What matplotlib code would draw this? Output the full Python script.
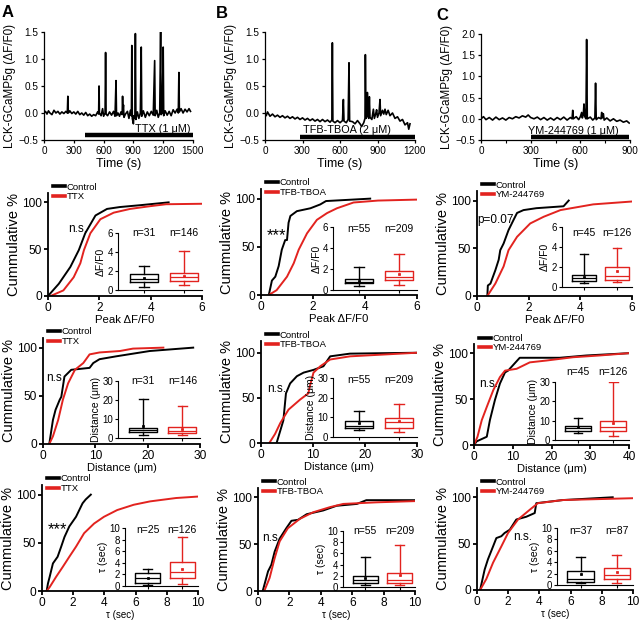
"""Calcium traces, cumulative distributions and box-plot insets (panels A-C)."""

import matplotlib
matplotlib.use("Agg")
import matplotlib.pyplot as plt
import matplotlib.transforms as mtransforms

plt.rcParams["font.family"] = ["Liberation Sans", "DejaVu Sans"]

W, H = 640, 621
RED = "#e2231f"
BLACK = "#000000"

# ---------------- example traces (time in s, dF/F0) ----------------
trace_a_t = [0, 15, 30, 45, 60, 80, 100, 120, 140, 160, 180, 200, 220, 235, 240, 245, 260, 280,
             300, 320, 340, 360, 380, 400, 420, 440, 460, 480, 500, 520, 540, 550, 554, 558, 575,
             590, 600, 615, 620, 625, 640, 660, 680, 700, 715, 725, 730, 745, 760, 775, 787, 791,
             795, 800, 805, 820, 840, 855, 870, 880, 884, 889, 900, 905, 915, 920, 925, 940, 955,
             970, 979, 984, 1000, 1020, 1040, 1060, 1080, 1100, 1114, 1119, 1135, 1150, 1165,
             1174, 1179, 1190, 1200, 1205, 1220, 1240, 1260, 1280, 1300, 1320, 1340, 1352, 1358,
             1363, 1380, 1400, 1420, 1440, 1460, 1475]
trace_a_v = [0.0, 0.03, -0.02, 0.04, 0.0, -0.03, 0.05, 0.0, 0.03, -0.02, 0.02, -0.01, 0.03, 0.0,
             0.31, 0.0, 0.04, -0.01, 0.02, -0.02, 0.03, -0.03, 0.0, -0.04, 0.01, -0.05, -0.02,
             -0.06, -0.03, -0.05, 0.02, -0.02, 0.5, 0.0, -0.05, 0.08, -0.06, 0.0, 1.12, -0.02,
             -0.05, 0.02, -0.04, 0.03, -0.06, 0.6, -0.05, 0.0, -0.06, 0.02, -0.03, 0.31, 0.05,
             0.15, -0.08, -0.02, 0.03, -0.1, 0.05, -0.05, 1.25, -0.1, -0.2, -0.05, -0.1, 1.47,
             -0.12, 0.02, -0.1, 0.0, 1.22, -0.06, 0.04, -0.08, 0.02, -0.05, 0.03, -0.04, 0.97,
             -0.05, 0.05, -0.08, 0.0, 1.5, -0.03, 0.0, 1.22, -0.05, 0.04, -0.04, 0.03, -0.05,
             0.06, 0.0, 0.07, 0.0, 0.75, 0.02, 0.08, 0.0, 0.07, 0.02, 0.08, 0.03]

trace_b_t = [0, 10, 20, 40, 60, 80, 100, 120, 140, 160, 180, 200, 220, 240, 260, 280, 300, 320,
             340, 360, 380, 400, 420, 440, 460, 480, 500, 520, 535, 539, 543, 560, 580, 600, 620,
             627, 632, 650, 665, 672, 677, 700, 720, 740, 760, 773, 790, 800, 803, 808, 815, 819,
             823, 830, 835, 840, 855, 867, 875, 885, 893, 900, 912, 920, 925, 940, 950, 960, 970,
             985, 1000, 1020, 1040, 1060, 1080, 1100, 1120, 1140, 1150, 1160]
trace_b_v = [0.0, -0.05, 0.02, -0.06, -0.02, -0.07, -0.04, -0.08, -0.05, -0.09, -0.06, -0.1,
             -0.07, -0.11, -0.08, -0.12, -0.09, -0.13, -0.1, -0.14, -0.11, -0.15, -0.12, -0.16,
             -0.12, -0.16, -0.13, -0.17, -0.13, 1.3, -0.15, -0.18, -0.14, -0.18, -0.14, 0.25,
             -0.15, -0.18, -0.12, 0.93, -0.15, -0.16, -0.2, -0.14, -0.2, -0.25, -0.18, -0.1, 1.08,
             -0.1, -0.05, 0.38, -0.05, -0.1, 0.3, -0.08, -0.12, 0.07, -0.1, -0.02, 0.06, -0.08,
             0.0, 0.25, -0.05, 0.05, -0.02, 0.07, -0.03, 0.05, -0.05, 0.0, -0.1, -0.07, -0.15,
             -0.12, -0.22, -0.18, -0.3, -0.2]

trace_c_t = [0, 15, 30, 50, 70, 90, 110, 130, 150, 170, 190, 210, 230, 250, 270, 285, 300, 320,
             340, 360, 380, 400, 420, 440, 460, 480, 500, 520, 540, 550, 554, 558, 575, 590, 600,
             608, 612, 618, 622, 627, 634, 638, 642, 660, 675, 688, 692, 696, 710, 725, 729, 733,
             739, 744, 760, 780, 800, 820, 840, 860, 880, 895]
trace_c_v = [0.0, 0.05, -0.02, 0.03, -0.03, 0.04, -0.02, 0.02, -0.03, 0.03, 0.0, 0.05, 0.02,
             0.07, 0.04, 0.09, 0.03, 0.0, 0.04, -0.02, 0.03, -0.03, 0.02, -0.03, 0.03, -0.02,
             0.04, -0.03, 0.03, 0.0, 0.2, 0.0, 0.05, -0.02, 0.05, 0.15, 0.02, 0.1, 0.35, 0.05, 0.0,
             1.87, 0.0, 0.04, -0.03, 0.02, 0.84, -0.02, 0.03, 0.0, 0.15, 0.02, 0.12, -0.03, 0.02,
             -0.05, 0.0, -0.06, -0.03, -0.08, -0.05, -0.1]

drug_names = ["TTX", "TFB-TBOA", "YM-244769"]
drug_labels = ["TTX (1 \u03bcM)", "TFB-TBOA (2 \u03bcM)", "YM-244769 (1 \u03bcM)"]
drug_start = [412, 280, 302]
drug_end = [1500, 1200, 896]

# ---------------- cumulative distributions (x value, cumulative %) ----------------
peak_a_ctrl_x = [0, 0.42, 0.87, 1.2, 1.45, 1.85, 2.3, 2.8, 3.6, 4.7]
peak_a_ctrl_y = [0, 13, 31, 49, 67, 86, 93, 95, 97, 100]
peak_a_drug_x = [0.1, 0.6, 1.0, 1.26, 1.4, 1.65, 2.04, 2.56, 3.2, 4.0, 4.6, 6.0]
peak_a_drug_y = [0, 6, 20, 35, 49, 67, 82, 89, 93, 96, 98, 98.5]

peak_b_ctrl_x = [0.3, 0.42, 0.55, 0.68, 0.8, 0.93, 1.0, 1.06, 1.13, 1.38, 1.9, 2.28, 2.5, 4.2]
peak_b_ctrl_y = [0, 15, 19, 30, 47, 57, 57, 75, 82, 87, 90, 94, 97.5, 100]
peak_b_drug_x = [0.3, 0.6, 1.0, 1.26, 1.45, 1.77, 2.15, 2.54, 2.92, 3.56, 4.5, 6.0]
peak_b_drug_y = [0, 5, 19, 33, 47, 64, 78, 85, 90, 96, 98, 99]

peak_c_ctrl_x = [0.4, 0.42, 0.52, 0.71, 0.84, 0.9, 1.03, 1.22, 1.42, 1.55, 1.8, 2.3, 3.35, 3.55]
peak_c_ctrl_y = [0, 11, 13, 27, 38, 48, 55, 69, 80, 87, 90, 92, 94, 100]
peak_c_drug_x = [0.4, 0.71, 1.03, 1.22, 1.55, 2.06, 2.58, 3.23, 4.5, 6.0]
peak_c_drug_y = [0, 13, 31, 48, 62, 76, 83, 90, 96, 99]

dist_a_ctrl_x = [1.2, 1.9, 2.4, 3.2, 3.5, 4.1, 5.4, 8.9, 9.6, 10.8, 14.0, 20.4, 28.7]
dist_a_ctrl_y = [0, 25, 35.5, 46, 49, 70, 77, 79, 84, 88, 91, 96.5, 100]
dist_a_drug_x = [1.2, 1.9, 2.9, 3.8, 4.8, 6.1, 7.7, 8.9, 10.8, 14.7, 17.2, 23.0]
dist_a_drug_y = [0, 8, 25, 46, 63, 77, 84, 93, 95, 96.5, 99, 100]

dist_b_ctrl_x = [3.0, 4.3, 4.8, 5.6, 6.9, 8.2, 10.1, 12.0, 13.3, 17.1, 30.0]
dist_b_ctrl_y = [0, 25, 55, 66, 74, 78, 81, 85, 96, 99, 100]
dist_b_drug_x = [1.6, 2.7, 3.7, 5.3, 7.5, 9.1, 9.4, 10.1, 11.4, 13.3, 17.1, 30.0]
dist_b_drug_y = [0, 10, 22, 37, 48, 55, 63, 78, 85, 92.5, 96, 100]

dist_c_ctrl_x = [0, 0.7, 3.3, 4.1, 5.4, 6.7, 8.0, 8.8, 11.8, 22.1, 29.0, 40.0]
dist_c_ctrl_y = [0, 4, 9, 27, 49, 67, 79, 81, 95, 95, 97.5, 100]
dist_c_drug_x = [0, 0.9, 2.0, 3.3, 5.0, 6.7, 8.0, 11.0, 14.4, 18.7, 25.6, 32.4, 40.0]
dist_c_drug_y = [0, 9, 27, 41.5, 60, 74, 81, 83, 90, 92, 95.6, 97.5, 100]

tau_a_ctrl_x = [0.3, 0.38, 0.49, 0.7, 1.0, 1.23, 1.44, 1.75, 2.18, 2.6, 2.8, 3.13]
tau_a_ctrl_y = [0, 7.7, 14.6, 28.6, 35.5, 46, 56, 67, 77, 91, 95, 100]
tau_a_drug_x = [0.3, 0.49, 0.9, 1.33, 1.75, 2.18, 2.7, 3.34, 3.97, 4.82, 5.88, 6.93, 8.6, 10.0]
tau_a_drug_y = [0, 4, 14.6, 25, 35.5, 46, 60, 70, 77, 84, 89.5, 93, 96.5, 98]

tau_b_ctrl_x = [0.3, 0.64, 0.85, 1.06, 1.38, 1.8, 2.13, 2.55, 3.1, 4.15, 5.0, 6.3, 6.9, 10.0]
tau_b_ctrl_y = [0, 21, 28, 42, 56, 67, 75, 76, 82, 86, 91, 93, 97, 97]
tau_b_drug_x = [0.4, 0.74, 1.06, 1.38, 1.9, 2.66, 3.5, 4.57, 5.43, 7.55, 10.0]
tau_b_drug_y = [0, 14, 35, 53, 67, 77, 84, 89.5, 93, 94.7, 96]

tau_c_ctrl_x = [0.2, 0.49, 0.7, 1.03, 1.24, 1.56, 1.77, 2.1, 2.52, 3.16, 3.7, 3.8, 5.5, 8.7]
tau_c_ctrl_y = [0, 22, 33, 47, 56, 58, 61.5, 65, 76, 79, 83, 93.6, 97, 100]
tau_c_drug_x = [0.2, 0.6, 1.03, 1.56, 1.99, 2.63, 3.38, 3.9, 5.5, 10.0]
tau_c_drug_y = [0, 12, 29.5, 47, 61.5, 76, 86.5, 93.6, 97, 99]

# ---------------- box plots: whislo, q1, median, q3, whishi, mean ----------------
peak_a_ctrl_box = [0.3, 0.85, 1.2, 1.65, 2.5, 1.3]
peak_a_drug_box = [0.5, 1.0, 1.35, 1.8, 4.1, 1.5]
peak_b_ctrl_box = [0.4, 0.65, 0.8, 1.05, 2.2, 0.9]
peak_b_drug_box = [0.5, 0.95, 1.25, 1.85, 3.4, 1.5]
peak_c_ctrl_box = [0.4, 0.65, 0.95, 1.25, 3.3, 1.0]
peak_c_drug_box = [0.5, 0.75, 1.15, 2.0, 3.9, 1.6]

dist_a_ctrl_box = [1.5, 3.0, 4.0, 5.5, 20.5, 6.5]
dist_a_drug_box = [1.5, 2.5, 3.5, 5.8, 17.0, 5.0]
dist_b_ctrl_box = [3.5, 4.5, 5.5, 8.0, 13.0, 7.0]
dist_b_drug_box = [2.5, 4.5, 7.5, 9.8, 17.0, 8.0]
dist_c_ctrl_box = [3.5, 4.5, 6.0, 7.5, 11.5, 6.5]
dist_c_drug_box = [2.0, 4.5, 6.5, 10.0, 30.0, 9.0]

tau_a_ctrl_box = [0.1, 0.6, 1.3, 2.2, 3.0, 1.4]
tau_a_drug_box = [0.3, 1.3, 2.5, 4.2, 8.5, 3.0]
tau_b_ctrl_box = [0.3, 0.7, 1.2, 2.0, 5.3, 1.6]
tau_b_drug_box = [0.3, 0.7, 1.3, 2.5, 7.5, 2.2]
tau_c_ctrl_box = [0.3, 0.5, 1.1, 2.4, 5.0, 1.9]
tau_c_drug_box = [0.3, 1.1, 1.7, 3.0, 5.2, 2.3]

n_peak = [(31, 146), (55, 209), (45, 126)]
n_dist = [(31, 146), (55, 209), (45, 126)]
n_tau = [(25, 126), (55, 209), (37, 87)]

stat_peak = ["n.s.", "***", "p=0.07"]
stat_dist = ["n.s.", "n.s.", "n.s."]
stat_tau = ["***", "n.s", "n.s."]


def px_rect(x0, x1, y0, y1):
    return [x0 / W, 1 - y1 / H, (x1 - x0) / W, (y1 - y0) / H]


def style_axes(ax, lw, ticksize, ticklen):
    for side in ("top", "right"):
        ax.spines[side].set_visible(False)
    for side in ("left", "bottom"):
        ax.spines[side].set_linewidth(lw)
    ax.tick_params(direction="out", width=lw, length=ticklen, labelsize=ticksize, pad=1.5)


def trace_panel(fig, rect, t, v, xlim, xticks, ylim, yticks, idx, text_x, bar_y, minor=None):
    ax = fig.add_axes(px_rect(*rect))
    ax.plot(t, v, color=BLACK, lw=1.2)
    ax.plot([drug_start[idx], drug_end[idx]], [bar_y, bar_y], color=BLACK, lw=3.2,
            solid_capstyle="butt")
    ax.text(text_x, bar_y + 0.03, drug_labels[idx], ha="center", va="bottom", fontsize=7.8)
    ax.set_xlim(*xlim)
    ax.set_ylim(*ylim)
    ax.set_xticks(xticks)
    ax.set_yticks(yticks)
    if minor is not None:
        ax.set_xticks(minor, minor=True)
        ax.tick_params(which="minor", length=2, width=0.8)
    ax.set_xlabel("Time (s)", fontsize=9, labelpad=2)
    ax.set_ylabel("LCK-GCaMP5g (\u0394F/F0)", fontsize=8.4, labelpad=1.5)
    style_axes(ax, 0.9, 7.2, 2.5)
    return ax


def cdf_panel(fig, rect, ctrl_x, ctrl_y, drug_x, drug_y, idx, xlim, xticks, xlabel, xlabel_size,
              ymax, stat, stat_xy):
    ax = fig.add_axes(px_rect(*rect))
    ax.plot(ctrl_x, ctrl_y, color=BLACK, lw=1.4, label="Control")
    ax.plot(drug_x, drug_y, color=RED, lw=1.4, label=drug_names[idx])
    ax.set_xlim(*xlim)
    ax.set_ylim(0, ymax)
    ax.set_xticks(xticks)
    ax.set_yticks([0, 50, 100])
    ax.set_xlabel(xlabel, fontsize=xlabel_size, labelpad=0.5)
    ax.set_ylabel("Cummulative %", fontsize=10.5, labelpad=0.5)
    style_axes(ax, 1.3, 8.6, 3)
    # asterisks are tiny glyphs in this font, so give them more size
    size = 12 if "*" in stat else 8.5
    ax.text(stat_xy[0], stat_xy[1], stat, fontsize=size, ha="center", va="center")
    leg = ax.legend(loc="upper left", bbox_to_anchor=(0.03, 1.1), frameon=False, fontsize=6.8,
                    handlelength=1.3, handletextpad=0.15, labelspacing=0.05, borderpad=0,
                    borderaxespad=0)
    for line in leg.get_lines():
        line.set_linewidth(2.6)
    return ax


def box_inset(fig, rect, ctrl_box, drug_box, counts, ylim, yticks, ylabel, n_y):
    ax = fig.add_axes(px_rect(*rect))
    stats = []
    for b in (ctrl_box, drug_box):
        stats.append(dict(whislo=b[0], q1=b[1], med=b[2], q3=b[3], whishi=b[4], mean=b[5],
                          fliers=[]))
    art = ax.bxp(stats, positions=[1, 2], widths=0.72, showmeans=True, patch_artist=False,
                 meanprops=dict(marker="s", markersize=1.4, markeredgewidth=0.6),
                 capwidths=0.25)
    for i, color in enumerate((BLACK, RED)):
        art["boxes"][i].set(color=color, linewidth=1.0)
        art["medians"][i].set(color=color, linewidth=0.9)
        art["means"][i].set(markerfacecolor=color, markeredgecolor=color)
        for j in (2 * i, 2 * i + 1):
            art["whiskers"][j].set(color=color, linewidth=1.0)
            art["caps"][j].set(color=color, linewidth=1.0)
    ax.set_xlim(0.35, 2.45)
    ax.set_ylim(*ylim)
    ax.set_yticks(yticks)
    ax.set_xticks([1, 2])
    ax.set_xticklabels([])
    ax.set_ylabel(ylabel, fontsize=7.5, labelpad=1)
    style_axes(ax, 0.8, 7, 2)
    tr = mtransforms.blended_transform_factory(ax.transData, ax.transAxes)
    for pos, n in zip((1, 2), counts):
        ax.text(pos, n_y, f"n={n}", transform=tr, ha="center", va="center", fontsize=7.5)
    return ax


def main():
    fig = plt.figure(figsize=(W / 100, H / 100), dpi=100)

    # row 1: traces
    trace_panel(fig, (44, 193, 32, 140), trace_a_t, trace_a_v, (0, 1500),
                [0, 300, 600, 900, 1200, 1500], (-0.5, 1.5), [-0.5, 0, 0.5, 1.0, 1.5], 0,
                1200, -0.41)
    trace_panel(fig, (265, 415, 32, 140), trace_b_t, trace_b_v, (0, 1200),
                [0, 300, 600, 900, 1200], (-0.5, 1.5), [-0.5, 0, 0.5, 1.0, 1.5], 1,
                655, -0.44)
    trace_panel(fig, (481, 630, 34, 140), trace_c_t, trace_c_v, (0, 900),
                [0, 300, 600, 900], (-0.5, 2.0), [-0.5, 0, 0.5, 1.0, 1.5, 2.0], 2,
                560, -0.44, minor=[150, 450, 750])

    # row 2: peak amplitude
    cdf_panel(fig, (48, 202, 193, 296), peak_a_ctrl_x, peak_a_ctrl_y, peak_a_drug_x,
              peak_a_drug_y, 0, (0, 6), [0, 2, 4, 6], "Peak \u0394F/F0", 8.2, 110,
              stat_peak[0], (1.15, 72))
    box_inset(fig, (118, 202, 233, 290), peak_a_ctrl_box, peak_a_drug_box, n_peak[0],
              (0, 6), [0, 2, 4, 6], "\u0394F/F0", 1.0)
    cdf_panel(fig, (261, 417, 189, 295), peak_b_ctrl_x, peak_b_ctrl_y, peak_b_drug_x,
              peak_b_drug_y, 1, (0, 6), [0, 2, 4, 6], "Peak \u0394F/F0", 8.2, 110,
              stat_peak[1], (0.58, 62))
    box_inset(fig, (333, 417, 227, 290), peak_b_ctrl_box, peak_b_drug_box, n_peak[1],
              (0, 6), [0, 2, 4, 6], "\u0394F/F0", 0.97)
    cdf_panel(fig, (477, 632, 191, 296), peak_c_ctrl_x, peak_c_ctrl_y, peak_c_drug_x,
              peak_c_drug_y, 2, (0, 6), [0, 2, 4, 6], "Peak \u0394F/F0", 8.2, 110,
              stat_peak[2], (0.7, 80))
    box_inset(fig, (562, 632, 227, 287), peak_c_ctrl_box, peak_c_drug_box, n_peak[2],
              (0, 6), [0, 2, 4, 6], "\u0394F/F0", 0.9)

    # row 3: distance
    cdf_panel(fig, (43, 200, 338, 444), dist_a_ctrl_x, dist_a_ctrl_y, dist_a_drug_x,
              dist_a_drug_y, 0, (0, 30), [0, 10, 20, 30], "Distance (\u03bcm)", 8, 110,
              stat_dist[0], (2.5, 69))
    box_inset(fig, (118, 200, 381, 438), dist_a_ctrl_box, dist_a_drug_box, n_dist[0],
              (0, 30), [0, 10, 20, 30], "Distance (\u03bcm)", 1.0)
    cdf_panel(fig, (261, 417, 341, 443), dist_b_ctrl_x, dist_b_ctrl_y, dist_b_drug_x,
              dist_b_drug_y, 1, (0, 30), [0, 10, 20, 30], "Distance (\u03bcm)", 8, 113,
              stat_dist[1], (3.1, 60))
    box_inset(fig, (333, 417, 378, 437), dist_b_ctrl_box, dist_b_drug_box, n_dist[1],
              (0, 30), [0, 10, 20, 30], "Distance (\u03bcm)", 0.96)
    cdf_panel(fig, (474, 629, 344, 445), dist_c_ctrl_x, dist_c_ctrl_y, dist_c_drug_x,
              dist_c_drug_y, 2, (0, 40), [0, 10, 20, 30, 40], "Distance (\u03bcm)", 8, 110,
              stat_dist[2], (3.9, 66))
    box_inset(fig, (555, 629, 382, 440), dist_c_ctrl_box, dist_c_drug_box, n_dist[2],
              (0, 30), [0, 10, 20, 30], "Distance (\u03bcm)", 1.17)

    # row 4: decay time
    cdf_panel(fig, (42, 198, 485, 591), tau_a_ctrl_x, tau_a_ctrl_y, tau_a_drug_x,
              tau_a_drug_y, 0, (0, 10), [0, 2, 4, 6, 8, 10], "\u03c4 (sec)", 7, 110,
              stat_tau[0], (1.0, 64))
    box_inset(fig, (125, 198, 528, 586), tau_a_ctrl_box, tau_a_drug_box, n_tau[0],
              (0, 10), [0, 2, 4, 6, 8, 10], "\u03c4 (sec)", 0.97)
    cdf_panel(fig, (258, 415, 488, 591), tau_b_ctrl_x, tau_b_ctrl_y, tau_b_drug_x,
              tau_b_drug_y, 1, (0, 10), [0, 2, 4, 6, 8, 10], "\u03c4 (sec)", 7, 110,
              stat_tau[1], (0.77, 57))
    box_inset(fig, (343, 415, 531, 587), tau_b_ctrl_box, tau_b_drug_box, n_tau[1],
              (0, 10), [0, 2, 4, 6, 8, 10], "\u03c4 (sec)", 1.0)
    cdf_panel(fig, (477, 633, 488, 590), tau_c_ctrl_x, tau_c_ctrl_y, tau_c_drug_x,
              tau_c_drug_y, 2, (0, 10), [0, 2, 4, 6, 8, 10], "\u03c4 (sec)", 7, 110,
              stat_tau[2], (2.9, 57))
    box_inset(fig, (557, 633, 528, 585), tau_c_ctrl_box, tau_c_drug_box, n_tau[2],
              (0, 10), [0, 2, 4, 6, 8, 10], "\u03c4 (sec)", 0.95)

    # panel letters
    for letter, x, y in (("A", 2, 5), ("B", 216, 6), ("C", 436, 8)):
        fig.text(x / W, 1 - y / H, letter, fontsize=12, fontweight="bold", va="top", ha="left")

    fig.savefig("out.png", dpi=100)


if __name__ == "__main__":
    main()
